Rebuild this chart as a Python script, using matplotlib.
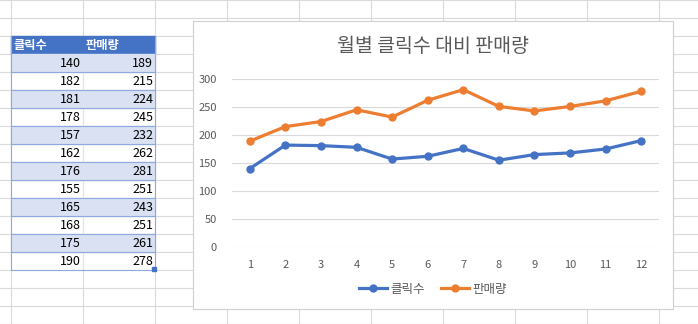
import matplotlib.pyplot as plt
from matplotlib.patches import Rectangle
from matplotlib.lines import Line2D

plt.rcParams['font.family'] = ['Noto Sans CJK KR', 'DejaVu Sans']

# data
months = [1, 2, 3, 4, 5, 6, 7, 8, 9, 10, 11, 12]
clicks = [140, 182, 181, 178, 157, 162, 176, 155, 165, 168, 175, 190]
sales = [189, 215, 224, 245, 232, 262, 281, 251, 243, 251, 261, 278]
headers = ['클릭수', '판매량']
title = '월별 클릭수 대비 판매량'
yticks = [0, 50, 100, 150, 200, 250, 300]

W, H = 698, 324
fig = plt.figure(figsize=(W / 100, H / 100), dpi=100)

# spreadsheet background, pixel coordinates
bg = fig.add_axes([0, 0, 1, 1])
bg.set_xlim(0, W)
bg.set_ylim(H, 0)
bg.axis('off')

grid_c = '#DADADA'
for y in range(0, H + 1, 18):
    bg.add_line(Line2D([0, W], [y, y], color=grid_c, lw=0.8, zorder=1))
for x in range(11, W, 72):
    bg.add_line(Line2D([x, x], [0, H], color=grid_c, lw=0.8, zorder=1))

# table
tl, tm, tr = 11, 83, 155
bg.add_patch(Rectangle((tl, 36), tr - tl, 18, color='#4472C4', zorder=2))
bg.text(tl + 2, 45, headers[0], color='white', fontsize=8.8, fontweight='bold', va='center', zorder=3)
bg.text(tm + 3, 45, headers[1], color='white', fontsize=8.8, fontweight='bold', va='center', zorder=3)
for i in range(len(months)):
    y0 = 54 + 18 * i
    if i % 2 == 0:
        bg.add_patch(Rectangle((tl, y0), tr - tl, 18, color='#D9E1F2', zorder=2))
    bg.text(tm - 2, y0 + 9.5, str(clicks[i]), fontsize=9, ha='right', va='center', color='black', zorder=3)
    bg.text(tr - 2, y0 + 9.5, str(sales[i]), fontsize=9, ha='right', va='center', color='black', zorder=3)
    bg.add_line(Line2D([tl, tr], [y0 + 18, y0 + 18], color='#8EA9DB', lw=0.8, zorder=3))
bot = 54 + 18 * len(months)
bg.add_line(Line2D([tm, tm], [54, bot], color='#E4E4E4', lw=0.8, zorder=2.5))
bg.add_line(Line2D([tl, tl], [36, bot], color='#8EA9DB', lw=0.8, zorder=3))
bg.add_line(Line2D([tr, tr], [36, bot], color='#8EA9DB', lw=0.8, zorder=3))
bg.add_patch(Rectangle((tr - 3, bot - 3), 4, 4, color='#4472C4', zorder=4))

# chart box
bg.add_patch(Rectangle((193, 21), 480, 288, facecolor='white', edgecolor='#CFCFCF', lw=0.8, zorder=5))
bg.text(433, 46, title, fontsize=14, ha='center', va='center', color='#595959', zorder=6)

# plot area
ax = fig.add_axes([232 / W, 1 - 247 / H, 427 / W, 168 / H])
ax.set_facecolor('none')
ax.plot(months, clicks, color='#4472C4', lw=2.3, marker='o', ms=5, label='클릭수', clip_on=False, zorder=3)
ax.plot(months, sales, color='#ED7D31', lw=2.3, marker='o', ms=5, label='판매량', clip_on=False, zorder=3)
ax.set_xlim(0.5, 12.5)
ax.set_ylim(0, 300)
ax.set_xticks(months)
ax.set_yticks(yticks)
ax.grid(axis='y', color='#D9D9D9', lw=0.8)
ax.set_axisbelow(True)
for s in ax.spines.values():
    s.set_visible(False)
ax.tick_params(length=0, labelsize=8, labelcolor='#595959')
ax.tick_params(axis='y', pad=11)
ax.tick_params(axis='x', pad=9)

ax.legend(loc='center', bbox_to_anchor=(433 / W, 1 - 289 / H), bbox_transform=fig.transFigure,
          ncol=2, frameon=False, fontsize=9, labelcolor='#595959', handlelength=2.2,
          handletextpad=0.3, columnspacing=1.3)

fig.savefig('out.png', dpi=100)
